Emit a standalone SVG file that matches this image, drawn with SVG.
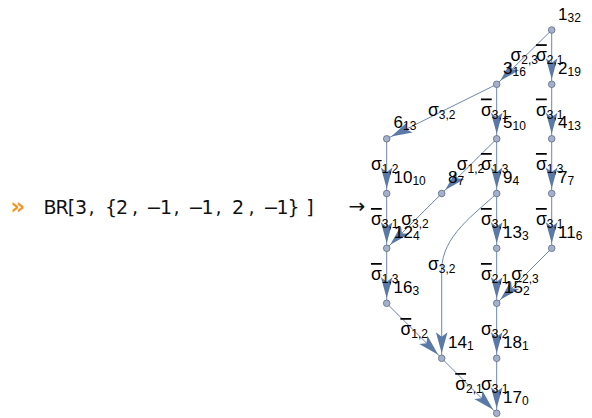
<svg xmlns="http://www.w3.org/2000/svg" xmlns:xlink="http://www.w3.org/1999/xlink" width="592" height="418" viewBox="0 0 592 418">
<style>
.e{fill:none;stroke:#6d86ad;stroke-width:1}
.ah{fill:#5b79a6}
.v{fill:#a3b1cc;stroke:#5f6b80;stroke-width:0.8}
text{font-family:"Liberation Sans",Arial,sans-serif;fill:#000}
.nl{font-size:17px}
.sub{font-size:12px}
.el{font-size:17.5px;text-anchor:middle}
.ob{text-decoration:overline}
.in{font-family:"DejaVu Sans",sans-serif;font-size:19px;text-anchor:middle;fill:#111}
.chev{font-family:"DejaVu Sans",sans-serif;font-size:23px;font-weight:bold;fill:#f39424;text-anchor:middle}
</style>
<defs>
<polygon id="ah" points="0,0 -21,-5.8 -16.5,0 -21,5.8"/>
</defs>
<rect width="592" height="418" fill="#fff"/>
<text class="chev" x="18" y="214">»</text>
<text class="in" x="50 62 71.5 81 91.5 111 122 135 154 166 176.5 196 207.5 218.5 238 251.5 271 282.5 293.5 310" y="214">BR[3,{2,−1,−1,2,−1}]</text>
<text class="in" x="357" y="213" style="font-size:20px">→</text>
<g id="connectors">
<path class="e" d="M551.7,30 L496.7,84.3"/>
<path class="e" d="M551.7,30 V84.3"/>
<path class="e" d="M496.7,84.3 L386.7,138.8"/>
<path class="e" d="M496.7,84.3 V138.8"/>
<path class="e" d="M551.7,84.3 V138.8"/>
<path class="e" d="M386.7,138.8 V193.5"/>
<path class="e" d="M496.7,138.8 L441.7,193.5"/>
<path class="e" d="M496.7,138.8 V193.5"/>
<path class="e" d="M551.7,138.8 V193.5"/>
<path class="e" d="M386.7,193.5 V248.3"/>
<path class="e" d="M441.7,193.5 L386.7,248.3"/>
<path class="e" d="M496.7,193.5 V248.3"/>
<path class="e" d="M496.7,193.5 C475,214 441.7,236 441.7,270 V358.3"/>
<path class="e" d="M551.7,193.5 V248.3"/>
<path class="e" d="M386.7,248.3 V303.3"/>
<path class="e" d="M496.7,248.3 V303.3"/>
<path class="e" d="M551.7,248.3 L496.7,303.3"/>
<path class="e" d="M386.7,303.3 L441.7,358.3"/>
<path class="e" d="M496.7,303.3 V358.3"/>
<path class="e" d="M441.7,358.3 L496.7,413.3"/>
<path class="e" d="M496.7,358.3 V413.3"/>
<use class="ah" href="#ah" transform="translate(500.2,80.8) rotate(135)"/>
<use class="ah" href="#ah" transform="translate(551.7,79.3) rotate(90)"/>
<use class="ah" href="#ah" transform="translate(391.2,136.6) rotate(153.65)"/>
<use class="ah" href="#ah" transform="translate(496.7,133.8) rotate(90)"/>
<use class="ah" href="#ah" transform="translate(551.7,133.8) rotate(90)"/>
<use class="ah" href="#ah" transform="translate(386.7,188.5) rotate(90)"/>
<use class="ah" href="#ah" transform="translate(445.2,190) rotate(135)"/>
<use class="ah" href="#ah" transform="translate(496.7,188.5) rotate(90)"/>
<use class="ah" href="#ah" transform="translate(551.7,188.5) rotate(90)"/>
<use class="ah" href="#ah" transform="translate(386.7,243.3) rotate(90)"/>
<use class="ah" href="#ah" transform="translate(390.2,244.8) rotate(135)"/>
<use class="ah" href="#ah" transform="translate(496.7,243.3) rotate(90)"/>
<use class="ah" href="#ah" transform="translate(441.7,353.3) rotate(90)"/>
<use class="ah" href="#ah" transform="translate(551.7,243.3) rotate(90)"/>
<use class="ah" href="#ah" transform="translate(386.7,298.3) rotate(90)"/>
<use class="ah" href="#ah" transform="translate(496.7,298.3) rotate(90)"/>
<use class="ah" href="#ah" transform="translate(500.2,299.8) rotate(135)"/>
<use class="ah" href="#ah" transform="translate(438.2,354.8) rotate(45)"/>
<use class="ah" href="#ah" transform="translate(496.7,353.3) rotate(90)"/>
<use class="ah" href="#ah" transform="translate(493.2,409.8) rotate(45)"/>
<use class="ah" href="#ah" transform="translate(496.7,408.3) rotate(90)"/>
</g>
<g id="n1"><circle class="v" cx="551.7" cy="30" r="3.3"/><text class="nl" x="558" y="19.5">1<tspan class="sub" dy="2">32</tspan></text></g>
<g id="n2"><circle class="v" cx="551.7" cy="84.3" r="3.3"/><text class="nl" x="558" y="73.8">2<tspan class="sub" dy="2">19</tspan></text></g>
<g id="n3"><circle class="v" cx="496.7" cy="84.3" r="3.3"/><text class="nl" x="503" y="73.8">3<tspan class="sub" dy="2">16</tspan></text></g>
<g id="n4"><circle class="v" cx="551.7" cy="138.8" r="3.3"/><text class="nl" x="558" y="128.3">4<tspan class="sub" dy="2">13</tspan></text></g>
<g id="n5"><circle class="v" cx="496.7" cy="138.8" r="3.3"/><text class="nl" x="503" y="128.3">5<tspan class="sub" dy="2">10</tspan></text></g>
<g id="n6"><circle class="v" cx="386.7" cy="138.8" r="3.3"/><text class="nl" x="393.5" y="128.3">6<tspan class="sub" dy="2">13</tspan></text></g>
<g id="n7"><circle class="v" cx="551.7" cy="193.5" r="3.3"/><text class="nl" x="558" y="183">7<tspan class="sub" dy="2">7</tspan></text></g>
<g id="n8"><circle class="v" cx="441.7" cy="193.5" r="3.3"/><text class="nl" x="448" y="183">8<tspan class="sub" dy="2">7</tspan></text></g>
<g id="n9"><circle class="v" cx="496.7" cy="193.5" r="3.3"/><text class="nl" x="503" y="183">9<tspan class="sub" dy="2">4</tspan></text></g>
<g id="n10"><circle class="v" cx="386.7" cy="193.5" r="3.3"/><text class="nl" x="393.5" y="183">10<tspan class="sub" dy="2">10</tspan></text></g>
<g id="n11"><circle class="v" cx="551.7" cy="248.3" r="3.3"/><text class="nl" x="558" y="237.8">11<tspan class="sub" dy="2">6</tspan></text></g>
<g id="n12"><circle class="v" cx="386.7" cy="248.3" r="3.3"/><text class="nl" x="394" y="237.8">12<tspan class="sub" dy="2">4</tspan></text></g>
<g id="n13"><circle class="v" cx="496.7" cy="248.3" r="3.3"/><text class="nl" x="503" y="237.8">13<tspan class="sub" dy="2">3</tspan></text></g>
<g id="n14"><circle class="v" cx="441.7" cy="358.3" r="3.3"/><text class="nl" x="448" y="347.8">14<tspan class="sub" dy="2">1</tspan></text></g>
<g id="n15"><circle class="v" cx="496.7" cy="303.3" r="3.3"/><text class="nl" x="504" y="292.8">15<tspan class="sub" dy="2">2</tspan></text></g>
<g id="n16"><circle class="v" cx="386.7" cy="303.3" r="3.3"/><text class="nl" x="393.5" y="292.8">16<tspan class="sub" dy="2">3</tspan></text></g>
<g id="n17"><circle class="v" cx="496.7" cy="413.3" r="3.3"/><text class="nl" x="503" y="402.8">17<tspan class="sub" dy="2">0</tspan></text></g>
<g id="n18"><circle class="v" cx="496.7" cy="358.3" r="3.3"/><text class="nl" x="503" y="347.8">18<tspan class="sub" dy="2">1</tspan></text></g>
<g id="edge-labels">
<text class="el" x="524.2" y="61.2">σ<tspan class="sub" dy="3">2,3</tspan></text>
<text class="el" x="549.7" y="61.2"><tspan class="ob">σ</tspan><tspan class="sub" dy="3">2,1</tspan></text>
<text class="el" x="441.7" y="115.5">σ<tspan class="sub" dy="3">3,2</tspan></text>
<text class="el" x="494.7" y="115.5"><tspan class="ob">σ</tspan><tspan class="sub" dy="3">3,1</tspan></text>
<text class="el" x="549.7" y="115.5"><tspan class="ob">σ</tspan><tspan class="sub" dy="3">3,1</tspan></text>
<text class="el" x="384.7" y="170">σ<tspan class="sub" dy="3">1,2</tspan></text>
<text class="el" x="470.5" y="170">σ<tspan class="sub" dy="3">1,2</tspan></text>
<text class="el" x="494.7" y="170"><tspan class="ob">σ</tspan><tspan class="sub" dy="3">1,3</tspan></text>
<text class="el" x="549.7" y="170"><tspan class="ob">σ</tspan><tspan class="sub" dy="3">1,3</tspan></text>
<text class="el" x="384.7" y="225"><tspan class="ob">σ</tspan><tspan class="sub" dy="3">3,1</tspan></text>
<text class="el" x="415" y="225">σ<tspan class="sub" dy="3">3,2</tspan></text>
<text class="el" x="494.7" y="225"><tspan class="ob">σ</tspan><tspan class="sub" dy="3">3,1</tspan></text>
<text class="el" x="549.7" y="225"><tspan class="ob">σ</tspan><tspan class="sub" dy="3">3,1</tspan></text>
<text class="el" x="441.7" y="270">σ<tspan class="sub" dy="3">3,2</tspan></text>
<text class="el" x="384.7" y="280"><tspan class="ob">σ</tspan><tspan class="sub" dy="3">1,3</tspan></text>
<text class="el" x="494.7" y="280"><tspan class="ob">σ</tspan><tspan class="sub" dy="3">2,1</tspan></text>
<text class="el" x="525" y="280">σ<tspan class="sub" dy="3">2,3</tspan></text>
<text class="el" x="414.2" y="335"><tspan class="ob">σ</tspan><tspan class="sub" dy="3">1,2</tspan></text>
<text class="el" x="494.7" y="335">σ<tspan class="sub" dy="3">3,2</tspan></text>
<text class="el" x="469" y="390"><tspan class="ob">σ</tspan><tspan class="sub" dy="3">2,1</tspan></text>
<text class="el" x="494.7" y="390">σ<tspan class="sub" dy="3">3,1</tspan></text>
</g>
</svg>
